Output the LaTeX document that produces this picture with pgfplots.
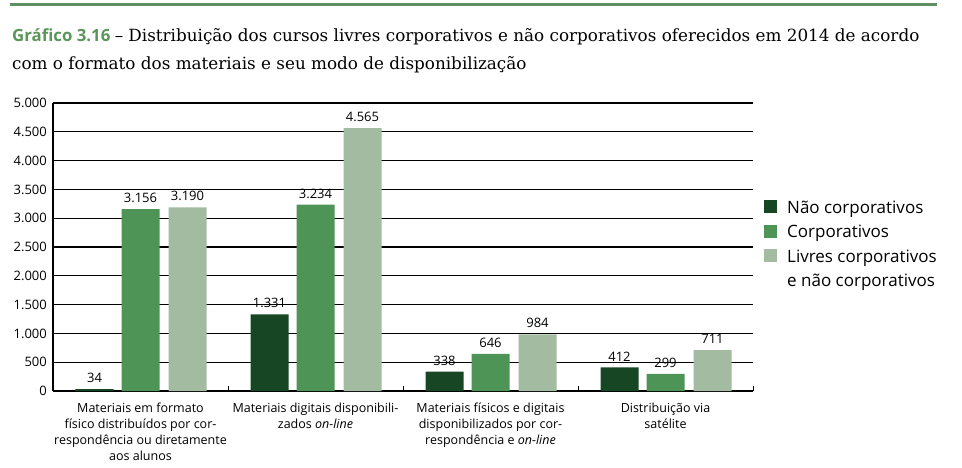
\documentclass[border=0pt]{standalone}
\usepackage{fontspec}
\setmainfont{Open Sans}
\newfontfamily\titlefont{DejaVu Serif}
\usepackage{pgfplots}
\pgfplotsset{compat=1.18}
\definecolor{cdark}{RGB}{22,70,36}
\definecolor{cmed}{RGB}{78,148,87}
\definecolor{clight}{RGB}{162,187,161}
\definecolor{ctitle}{RGB}{90,150,90}
\definecolor{crule}{RGB}{96,144,96}
\begin{document}
\begin{tikzpicture}
\useasboundingbox (0,0) rectangle (962pt,467pt);
\draw[line width=3pt, crule] (10pt,462pt) -- (937pt,462pt);
\node[anchor=base west, inner sep=0pt] at (12pt,425pt) {\fontsize{16.8}{20}\selectfont{\bfseries\color{ctitle}Gráfico 3.16} \titlefont– Distribuição dos cursos livres corporativos e não corporativos oferecidos em 2014 de acordo};
\node[anchor=base west, inner sep=0pt] at (12pt,397pt) {\titlefont\fontsize{16.8}{20}\selectfont com o formato dos materiais e seu modo de disponibilização};
\begin{axis}[
  at={(53pt,76pt)}, anchor=south west,
  scale only axis, width=700pt, height=288pt,
  xmin=-0.5, xmax=3.5, ymin=0, ymax=5000,
  ytick={0,500,...,5000},
  xtick={0,1,2,3},
  xticklabels={{Materiais em formato\\físico distribuídos por cor-\\respondência ou diretamente\\aos alunos},
    {Materiais digitais disponibili-\\zados \textit{on-line}},
    {Materiais físicos e digitais\\disponibilizados por cor-\\respondência e \textit{on-line}},
    {Distribuição via\\satélite}},
  ymajorgrids, grid style={black, line width=1.2pt},
  axis x line*=bottom, axis y line*=left,
  axis line style={black, line width=1.2pt, -},
  major tick length=0pt,
  extra x ticks={0.5,1.5,2.5,3.5}, extra x tick labels={},
  extra x tick style={major tick length=5pt, tick align=inside, tick style={black, line width=1pt}},
  /pgf/number format/1000 sep={.},
  /pgf/number format/assume math mode=true,
  yticklabel style={font=\fontsize{13}{15}\selectfont, anchor=east, inner sep=0pt, xshift=-6pt},
  xticklabel style={font=\fontsize{12.5}{16}\selectfont, align=center, anchor=north, inner sep=0pt, yshift=-12pt},
  legend style={at={(1.0157,0.6667)}, anchor=north west, draw=none, fill=none, inner sep=0pt,
    row sep=9.5pt, column sep=10pt, font=\fontsize{17}{20}\selectfont,
    nodes={inner sep=0pt, text height=14pt, text depth=1pt}},
  legend cell align=left,
  legend image code/.code={\fill[#1] (0pt,-6.5pt) rectangle (13pt,6.5pt);},
  legend entries={Não corporativos, Corporativos, Livres corporativos, e não corporativos},
  nodes near coords,
  every node near coord/.append style={font=\fontsize{13}{15}\selectfont, anchor=south, inner sep=0pt, yshift=6pt, text=black},
]
\addplot[ybar, bar width=38pt, bar shift=-46pt, fill=cdark, draw=none,
  every node near coord/.append style={xshift=-46pt}] coordinates {(0,34) (1,1331) (2,338) (3,412)};
\addplot[ybar, bar width=38pt, bar shift=0pt, fill=cmed, draw=none] coordinates {(0,3156) (1,3234) (2,646) (3,299)};
\addplot[ybar, bar width=38pt, bar shift=47pt, fill=clight, draw=none,
  every node near coord/.append style={xshift=47pt}] coordinates {(0,3190) (1,4565) (2,984) (3,711)};
\addlegendimage{empty legend}
\end{axis}
\end{tikzpicture}
\end{document}
